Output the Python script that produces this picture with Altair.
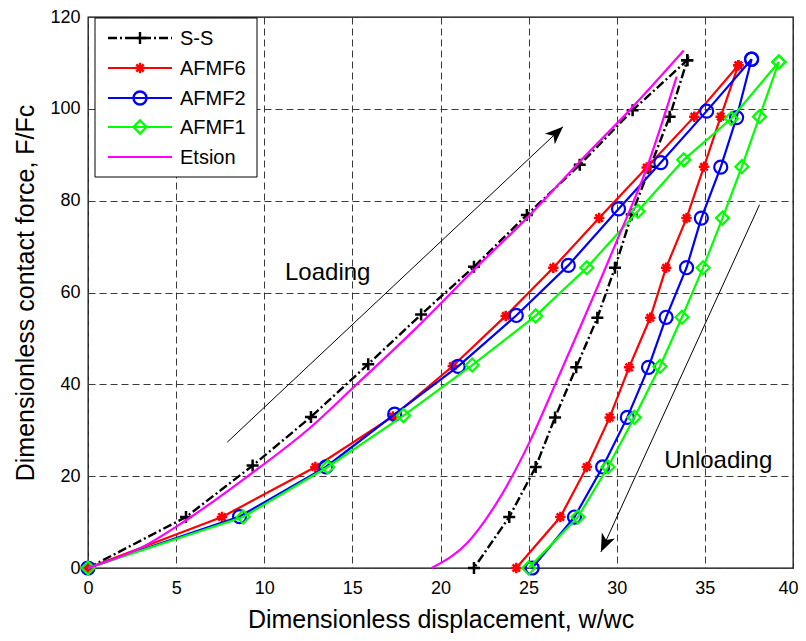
import math
import altair as alt
import pandas as pd

# ---------------- data ----------------
ss_load_x = [0, 5.56, 9.34, 12.65, 15.9, 18.9, 21.9, 24.9, 27.9, 30.9, 34.0]
ss_load_y = [0, 11.1, 22.3, 32.9, 44.4, 55.2, 65.6, 76.9, 87.8, 99.7, 110.6]
ss_unload_x = [34.0, 33.0, 31.9, 30.85, 29.9, 28.9, 27.7, 26.5, 25.4, 23.9, 21.9]
ss_unload_y = [110.6, 98.3, 87.4, 77.0, 65.4, 54.5, 43.7, 32.8, 22.0, 11.1, 0]

af6_load_x = [0, 7.6, 12.9, 17.3, 20.7, 23.7, 26.4, 29.0, 31.7, 34.4, 36.9]
af6_load_y = [0, 11.1, 22.0, 33.0, 44.0, 54.9, 65.4, 76.2, 87.2, 98.3, 109.5]
af6_unload_x = [36.9, 35.9, 34.95, 33.96, 32.8, 31.9, 30.7, 29.6, 28.3, 26.8, 24.3]
af6_unload_y = [109.5, 98.3, 87.4, 76.2, 65.4, 54.5, 43.7, 32.8, 22.0, 11.1, 0]

af2_load_x = [0, 8.6, 13.5, 17.4, 21.0, 24.3, 27.25, 30.1, 32.5, 35.1, 37.65]
af2_load_y = [0, 11.2, 22.0, 33.5, 43.9, 55.0, 65.9, 78.2, 88.3, 99.5, 110.8]
af2_unload_x = [37.65, 36.8, 35.9, 34.8, 33.96, 32.8, 31.8, 30.6, 29.2, 27.6, 25.2]
af2_unload_y = [110.8, 98.1, 87.3, 76.2, 65.4, 54.6, 43.7, 32.8, 22.0, 11.1, 0]

af1_load_x = [0, 8.8, 13.6, 17.9, 21.8, 25.4, 28.3, 31.2, 33.8, 36.5, 39.2]
af1_load_y = [0, 11.1, 22.0, 33.2, 44.2, 54.9, 65.4, 77.7, 88.9, 97.9, 110.2]
af1_unload_x = [39.2, 38.1, 37.1, 36.0, 34.9, 33.7, 32.45, 31.0, 29.5, 27.8, 25.0]
af1_unload_y = [110.2, 98.3, 87.4, 76.2, 65.4, 54.6, 43.9, 32.8, 22.0, 11.1, 0]

et_load_x = [0, 3.1, 5.56, 9.0, 12.65, 15.05, 18.5, 22.2, 24.9, 27.9, 30.9, 33.8]
et_load_y = [0, 4.6, 10.4, 19.8, 30.7, 39.3, 51.8, 66.1, 76.2, 88.5, 100.4, 112.7]
et_unload_x = [19.5, 21.5, 23.4, 25.1, 26.6, 29.05, 30.0, 31.7, 33.4]
et_unload_y = [0, 5.4, 15.5, 27.8, 40.8, 62.5, 71.2, 87.1, 107.0]

series_names = ["S-S", "AFMF6", "AFMF2", "AFMF1", "Etsion"]
series_colors = ["#000000", "#FF0000", "#0000FF", "#00FF00", "#FF00FF"]

arrow_names = ["Loading", "Unloading"]
arrow_x0 = [7.9, 38.1]
arrow_y0 = [27.4, 79.1]
arrow_x1 = [26.95, 29.1]
arrow_y1 = [96.1, 3.5]

note_text = ["Loading", "Unloading"]
note_x = [13.6, 35.76]
note_y = [62.7, 21.8]

x_ticks = [0, 5, 10, 15, 20, 25, 30, 35, 40]
y_ticks = [0, 20, 40, 60, 80, 100, 120]

# ---------------- layout constants ----------------
W, H = 705, 551
FONT = "Liberation Sans"
PLUS = "M-1,0L1,0M0,-1L0,1"
ASTER = "M-1,0L1,0M0,-1L0,1M-0.7,-0.7L0.7,0.7M-0.7,0.7L0.7,-0.7"
ARROW = "M0,0L0.4,1L0,0.72L-0.4,1Z"
SSDASH = [9, 3, 2, 3]


def build(name, lx, ly, ux, uy):
    rows = []
    for i, (a, b) in enumerate(zip(lx, ly)):
        rows.append({"series": name, "branch": "load", "order": i, "x": a, "y": b})
    for j, (a, b) in enumerate(zip(ux, uy)):
        rows.append({"series": name, "branch": "unload", "order": len(lx) + j, "x": a, "y": b})
    return pd.DataFrame(rows)


df_ss = build("S-S", ss_load_x, ss_load_y, ss_unload_x, ss_unload_y)
df_6 = build("AFMF6", af6_load_x, af6_load_y, af6_unload_x, af6_unload_y)
df_2 = build("AFMF2", af2_load_x, af2_load_y, af2_unload_x, af2_unload_y)
df_1 = build("AFMF1", af1_load_x, af1_load_y, af1_unload_x, af1_unload_y)
df_et = build("Etsion", et_load_x, et_load_y, et_unload_x, et_unload_y)

xscale = alt.Scale(domain=[0, 40], nice=False, zero=False)
yscale = alt.Scale(domain=[0, 120], nice=False, zero=False)

X = alt.X("x:Q", scale=xscale, axis=alt.Axis(
    values=x_ticks, title="Dimensionless displacement, w/wc", format="d", labelFlush=False,
    labelOffset={"condition": {"test": "datum.value === 40", "value": -5}, "value": 0},
    titleBaseline="alphabetic", titleY=59, labelPadding=11))
Y = alt.Y("y:Q", scale=yscale, axis=alt.Axis(
    values=y_ticks, title="Dimensionless contact force, F/Fc", format="d", labelFlush=False,
    titleBaseline="alphabetic", titleX=-55, titleY=H / 2, labelPadding=8))

layers = []
# S-S
layers.append(alt.Chart(df_ss).mark_line(color="black", strokeWidth=2.4, strokeDash=SSDASH)
              .encode(x=X, y=Y, order="order:Q"))
layers.append(alt.Chart(df_ss).mark_point(shape=PLUS, size=144, color="black", strokeWidth=2.5,
                                          filled=False, opacity=1).encode(x=X, y=Y))
# AFMF6
layers.append(alt.Chart(df_6).mark_line(color="#FF0000", strokeWidth=2.2).encode(x=X, y=Y, order="order:Q"))
layers.append(alt.Chart(df_6).mark_point(shape=ASTER, size=110, color="#FF0000", strokeWidth=2.5,
                                         filled=False, opacity=1).encode(x=X, y=Y))
# AFMF2
layers.append(alt.Chart(df_2).mark_line(color="#0000FF", strokeWidth=2.2).encode(x=X, y=Y, order="order:Q"))
layers.append(alt.Chart(df_2).mark_point(shape="circle", size=170, color="#0000FF", strokeWidth=2.2,
                                         filled=False, opacity=1).encode(x=X, y=Y))
# AFMF1
layers.append(alt.Chart(df_1).mark_line(color="#00FF00", strokeWidth=2.2).encode(x=X, y=Y, order="order:Q"))
layers.append(alt.Chart(df_1).mark_point(shape="diamond", size=170, color="#00FF00", strokeWidth=2.2,
                                         filled=False, opacity=1).encode(x=X, y=Y))
# Etsion
layers.append(alt.Chart(df_et).mark_line(color="#FF00FF", strokeWidth=2.2, interpolate="monotone")
              .encode(x=X, y=Y, detail="branch:N", order="order:Q"))

# arrows
arr_rows = []
for n, a, b, c, d in zip(arrow_names, arrow_x0, arrow_y0, arrow_x1, arrow_y1):
    arr_rows.append({"arrow": n, "order": 0, "x": a, "y": b})
    arr_rows.append({"arrow": n, "order": 1, "x": c, "y": d})
df_arr = pd.DataFrame(arr_rows)
heads = []
for n, a, b, c, d in zip(arrow_names, arrow_x0, arrow_y0, arrow_x1, arrow_y1):
    dxp = (c - a) * W / 40.0
    dyp = (d - b) * H / 120.0
    ang = math.degrees(math.atan2(dxp, dyp)) % 360
    heads.append({"arrow": n, "x": c, "y": d, "angle": ang})
df_heads = pd.DataFrame(heads)

layers.append(alt.Chart(df_arr).mark_line(color="black", strokeWidth=1)
              .encode(x=X, y=Y, detail="arrow:N", order="order:Q"))
layers.append(alt.Chart(df_heads).mark_point(shape=ARROW, size=1300, filled=True, fill="black",
                                             strokeWidth=0, opacity=1)
              .encode(x=X, y=Y, angle=alt.Angle("angle:Q", scale=None)))

df_note = pd.DataFrame({"text": note_text, "x": note_x, "y": note_y})
layers.append(alt.Chart(df_note).mark_text(font=FONT, fontSize=24, color="black",
                                           align="center", baseline="alphabetic")
              .encode(x=X, y=Y, text="text:N"))

# ---------------- legend (box in the top-left corner) ----------------
one = pd.DataFrame({"k": [0]})
layers.append(alt.Chart(one).mark_rect(fill="white", stroke="black", strokeWidth=1)
              .encode(x=alt.value(7), x2=alt.value(169), y=alt.value(1), y2=alt.value(160)))
row_y = [21, 51, 81, 110, 140]
shapes = [PLUS, ASTER, "circle", "diamond", None]
sizes = [144, 110, 170, 170, 0]
for i, name in enumerate(series_names):
    col = series_colors[i]
    kw = {"strokeDash": SSDASH} if i == 0 else {}
    layers.append(alt.Chart(one).mark_rule(color=col, strokeWidth=2.4 if i == 0 else 2.2, **kw)
                  .encode(x=alt.value(20), x2=alt.value(84), y=alt.value(row_y[i])))
    if shapes[i] is not None:
        layers.append(alt.Chart(one).mark_point(shape=shapes[i], size=sizes[i], color=col,
                                                strokeWidth=2.4, filled=False, opacity=1)
                      .encode(x=alt.value(52), y=alt.value(row_y[i])))
    layers.append(alt.Chart(one).mark_text(font=FONT, fontSize=20, color="black", align="left",
                                           baseline="middle")
                  .encode(x=alt.value(92), y=alt.value(row_y[i] + 1), text=alt.value(name)))

chart = alt.layer(*layers).properties(
    width=W, height=H,
    background="white",
    padding={"left": 80, "top": 9, "right": 5, "bottom": 65},
    autosize=alt.AutoSizeParams(type="none"),
).configure_view(
    stroke="black", strokeWidth=1.3
).configure_axis(
    grid=True, gridColor="#3a3a3a", gridDash=[7, 4], gridWidth=1, gridOpacity=1,
    domain=False, ticks=False, tickSize=0,
    labelFont=FONT, labelFontSize=18, labelColor="black",
    titleFont=FONT, titleFontSize=25, titleColor="black", titleFontWeight="normal",
)

chart.save("out.html", embed_options={"renderer": "svg", "actions": False})
